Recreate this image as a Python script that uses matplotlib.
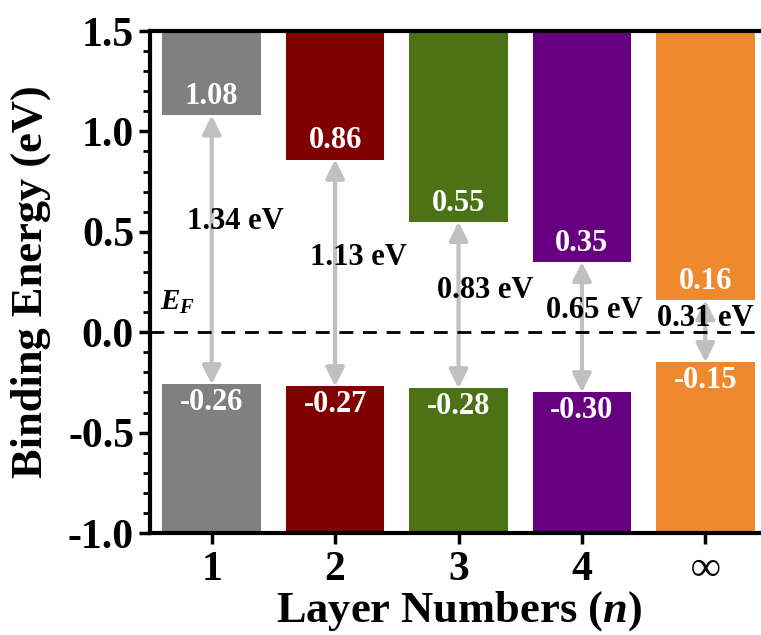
import matplotlib
matplotlib.use("Agg")
import matplotlib.pyplot as plt

plt.rcParams["font.family"] = ["Liberation Serif", "DejaVu Serif"]
plt.rcParams["font.weight"] = "bold"
plt.rcParams["axes.unicode_minus"] = False
plt.rcParams["mathtext.fontset"] = "custom"
plt.rcParams["mathtext.rm"] = "Liberation Serif:bold"
plt.rcParams["mathtext.it"] = "Liberation Serif:bold:italic"

layers = ["1", "2", "3", "4", "\u221e"]
cbm = [1.08, 0.86, 0.55, 0.35, 0.16]
vbm = [-0.26, -0.27, -0.28, -0.30, -0.15]
gaps = ["1.34 eV", "1.13 eV", "0.83 eV", "0.65 eV", "0.31 eV"]
gap_pos = [(1.19, 0.55), (2.19, 0.37), (3.22, 0.21), (4.10, 0.11), (5.0, 0.07)]
colors = ["#808080", "#800000", "#4b7315", "#660080", "#ee8a2d"]

ytop, ybot = 1.5, -1.0

fig = plt.figure(figsize=(7.61, 6.35), dpi=100)
ax = fig.add_axes([150 / 761, 1 - 533 / 635, 617 / 761, (533 - 31) / 635])

x = range(1, len(layers) + 1)
for i, xi in enumerate(x):
    # conduction band above, valence band below
    ax.bar(xi, ytop - cbm[i], bottom=cbm[i], width=0.8, color=colors[i], zorder=2)
    ax.bar(xi, vbm[i] - ybot, bottom=ybot, width=0.8, color=colors[i], zorder=2)
    ax.text(xi, cbm[i] + 0.02, f"{cbm[i]:.2f}", color="white", ha="center",
            va="bottom", fontsize=22, fontweight="bold", zorder=4)
    ax.text(xi, vbm[i] - 0.02, f"{vbm[i]:.2f}", color="white", ha="center",
            va="top", fontsize=22, fontweight="bold", zorder=4)
    ax.annotate("", xy=(xi, vbm[i]), xytext=(xi, cbm[i]),
                arrowprops=dict(arrowstyle="<|-|>", color="#c0c0c0", lw=3,
                                mutation_scale=28, shrinkA=0, shrinkB=0),
                zorder=3)
    ax.text(gap_pos[i][0], gap_pos[i][1], gaps[i], ha="center", va="center",
            fontsize=22, fontweight="bold", zorder=5)

ax.axhline(0, color="black", lw=2, ls=(0, (5, 3.5)), zorder=3)
ax.text(0.58, 0.08, r"$E_F$", fontsize=21, ha="left", va="bottom", zorder=5)

ax.set_xlim(0.5, 5.5)
ax.set_ylim(ybot, ytop)
ax.set_xticks(list(x))
ax.set_xticklabels(layers)
ax.set_yticks([-1.0, -0.5, 0.0, 0.5, 1.0, 1.5])
ax.set_yticks([v / 10 for v in range(-10, 16)], minor=True)
ax.tick_params(axis="both", which="major", direction="out", length=8, width=2.5,
               labelsize=30)
ax.tick_params(axis="y", which="minor", direction="out", length=5, width=2)
ax.tick_params(axis="x", which="minor", bottom=False)
ax.tick_params(axis="x", pad=5)
for s in ax.spines.values():
    s.set_linewidth(3)

ax.set_xlabel(r"Layer Numbers ($\it{n}$)", fontsize=32, fontweight="bold",
              labelpad=0)
ax.set_ylabel("Binding Energy (eV)", fontsize=32, fontweight="bold",
              labelpad=12)

fig.savefig("out.png", dpi=100)
